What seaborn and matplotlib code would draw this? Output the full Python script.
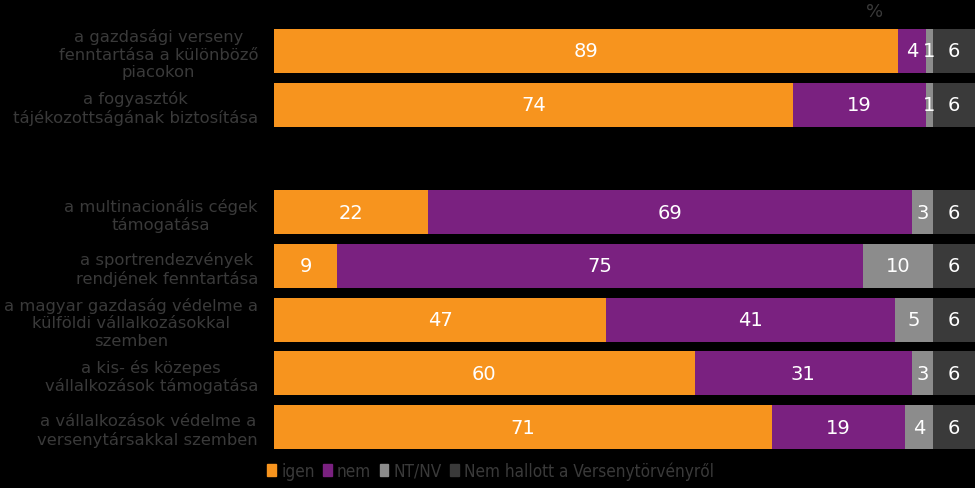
import matplotlib
matplotlib.use("Agg")
import matplotlib.pyplot as plt
import matplotlib.patches as mpatches
from matplotlib import font_manager
import seaborn as sns
import pandas as pd
import numpy as np

categories = [
    "a gazdasági verseny\nfenntartása a különböző\npiacokon",
    "a fogyasztók\ntájékozottságának biztosítása",
    " ",
    "a multinacionális cégek\ntámogatása",
    "a sportrendezvények\nrendjének fenntartása",
    "a magyar gazdaság védelme a\nkülföldi vállalkozásokkal\nszemben",
    "a kis- és közepes\nvállalkozások támogatása",
    "a vállalkozások védelme a\nversenytársakkal szemben",
]
bar_cats = [c for c in categories if c.strip()]
igen = [89, 74, 22, 9, 47.4, 60, 71]
nem = [4, 19, 69, 75, 41.2, 31, 19]
ntnv = [1, 1, 3, 10, 5.4, 3, 4]
nem_hallott = [6, 6, 6, 6, 6, 6, 6]
series_names = ["igen", "nem", "NT/NV", "Nem hallott a Versenytörvényről"]
colors = ["#F7941E", "#7A2180", "#8C8C8C", "#3A3A3A"]

sns.set_theme(style="white")
plt.rcParams['font.family'] = ['DejaVu Sans']

fig = plt.figure(figsize=(9.75, 4.89), dpi=100, facecolor="black")
ax = fig.add_axes([274/975, 1-455/489, 1-274/975, (455-25)/489])
ax.set_facecolor("black")

vals = np.array([igen, nem, ntnv, nem_hallott], dtype=float)
cum = np.cumsum(vals, axis=0)

for i in range(3, -1, -1):
    df = pd.DataFrame({"cat": bar_cats, "v": cum[i]})
    sns.barplot(data=df, y="cat", x="v", order=categories, orient="h",
                color=colors[i], saturation=1, width=0.82, ax=ax,
                edgecolor="none", linewidth=0, errorbar=None)

ax.set_xlim(0, 100)
ax.set_xlabel("")
ax.set_ylabel("")
ax.set_xticks([])
for s in ax.spines.values():
    s.set_visible(False)

pos = {c: k for k, c in enumerate(categories)}
for j, c in enumerate(bar_cats):
    y = pos[c]
    left = 0
    for i in range(4):
        v = vals[i, j]
        ax.text(left + v/2, y, f"{int(round(v))}", ha="center", va="center",
                color="white", fontsize=14)
        left += v

ax.tick_params(axis="y", length=0, pad=11.5, labelsize=11.8, colors="#3A3A3A")
for t in ax.get_yticklabels():
    t.set_multialignment("center")
    t.set_linespacing(1.2)

fig.text(875/975, 1-12/489, "%", ha="center", va="center", color="#3A3A3A", fontsize=13)

handles = [mpatches.Patch(color=c) for c in colors]
leg_font = font_manager.FontProperties(family="DejaVu Sans", stretch="condensed", size=12.3)
fig.legend(handles, series_names, loc="lower left", bbox_to_anchor=(252/975, -0.015),
           ncol=4, frameon=False, handlelength=0.5, handleheight=0.75,
           handletextpad=0.3, columnspacing=0.5, prop=leg_font, labelcolor="#3A3A3A")

fig.savefig("out.png", dpi=100, facecolor="black")
